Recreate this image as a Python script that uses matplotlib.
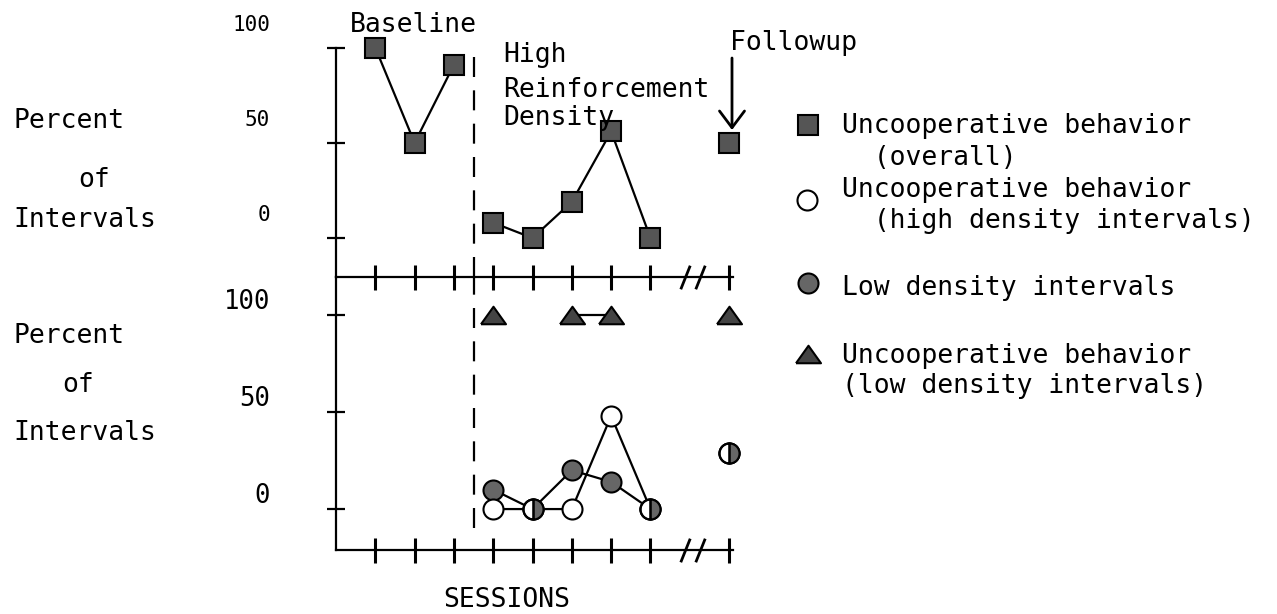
import numpy as np
import matplotlib.pyplot as plt
from matplotlib.transforms import ScaledTranslation

plt.rcParams['font.family'] = ['DejaVu Sans Mono', 'DejaVu Sans']

# Sesiones
baseline_sessions = [1, 2, 3]
treatment_sessions = [4, 5, 6, 7, 8]
followup_session = [10]

# Panel superior: conducta no cooperativa (total)
overall_baseline = [100, 50, 91]
overall_treatment = [8, 0, 19, 56, 0]
overall_followup = [50]

# Panel inferior
high_density_uncoop = [0, 0, 0, 48, 0]
high_density_uncoop_followup = [29]
low_density = [10, 0, 20, 14, 0]
low_density_followup = [29]
low_density_uncoop = [100, np.nan, 100, 100, np.nan]
low_density_uncoop_followup = [100]

x_ticks = [1, 2, 3, 4, 5, 6, 7, 8, 10]
y_ticks = [0, 50, 100]
y_tick_labels = ['0', '50', '100']
phase_change = 3.5
axis_break = [8.88, 9.26]

legend_lines = ["Uncooperative behavior", "  (overall)",
                "Uncooperative behavior", "  (high density intervals)",
                "Low density intervals",
                "Uncooperative behavior", "(low density intervals)"]

# Estilos
W, H = 1277, 614
FS = 19
sq_style = dict(marker='s', ms=14.4, mfc='#555555', mec='k', mew=1.5, ls='none', clip_on=False)
open_style = dict(marker='o', ms=14.4, mfc='white', mec='k', mew=1.5, ls='none', clip_on=False)
fill_style = dict(marker='o', ms=14.4, mfc='#666666', mec='k', mew=1.5, ls='none', clip_on=False)
tri_path = [(-1, -0.7), (1, -0.7), (0, 0.7), (-1, -0.7)]
tri_style = dict(marker=tri_path, ms=18, mfc='#444444', mec='k', mew=1.5, ls='none', clip_on=False)
slash = [(-0.4, -1), (0.4, 1)]

fig = plt.figure(figsize=(W / 100, H / 100), dpi=100)
ax_top = fig.add_axes([336 / W, (H - 277) / H, 397 / W, (277 - 47.7) / H])
ax_bot = fig.add_axes([336 / W, (H - 550) / H, 397 / W, (550 - 277) / H])
ax_top.set_ylim(-20.5, 100)
ax_bot.set_ylim(-21.1, 119.6)

for ax in (ax_top, ax_bot):
    ax.set_xlim(0, 10.1)
    ax.patch.set_alpha(0)
    ax.spines[['top', 'right']].set_visible(False)
    ax.spines[['left', 'bottom']].set_linewidth(1.6)
    ax.set_xticks(x_ticks)
    ax.set_yticks(y_ticks)
    ax.tick_params(axis='x', direction='inout', length=18, width=2.2, labelbottom=False)
    ax.tick_params(axis='y', direction='inout', length=13, width=1.6, labelleft=False)
    # corte del eje
    ax.plot(axis_break, [0, 0], transform=ax.get_xaxis_transform(), ls='none',
            marker=slash, ms=17, mew=2, mec='k', clip_on=False, zorder=5)

# etiquetas de eje y (desplazadas como en el original)
for ax, size, dy in ((ax_top, 15, 12), (ax_bot, 18.5, 4.5)):
    tr = ax.get_yaxis_transform() + ScaledTranslation(0, dy / 72, fig.dpi_scale_trans)
    for v, lab in zip(y_ticks, y_tick_labels):
        ax.text(-0.166, v, lab, transform=tr, ha='right', va='baseline', fontsize=size)

# linea de cambio de fase
ax_top.axvline(phase_change, color='k', lw=1.6, ls=(0, (9, 6)))
ax_bot.axvline(phase_change, ymin=22 / 273, color='k', lw=1.6, ls=(0, (9, 6)))

# Panel superior
ax_top.plot(baseline_sessions, overall_baseline, color='k', lw=1.6, zorder=2)
ax_top.plot(treatment_sessions, overall_treatment, color='k', lw=1.6, zorder=2)
ax_top.plot(baseline_sessions, overall_baseline, zorder=3, **sq_style)
ax_top.plot(treatment_sessions, overall_treatment, zorder=3, **sq_style)
ax_top.plot(followup_session, overall_followup, zorder=3, **sq_style)

# Panel inferior
ax_bot.plot(treatment_sessions, low_density_uncoop, color='k', lw=1.6, zorder=2)
ax_bot.plot(treatment_sessions, high_density_uncoop, color='k', lw=1.6, zorder=2)
ax_bot.plot(treatment_sessions, low_density, color='k', lw=1.6, zorder=2)
ax_bot.plot(treatment_sessions, low_density_uncoop, zorder=3, **tri_style)
ax_bot.plot(followup_session, low_density_uncoop_followup, zorder=3, **tri_style)
ax_bot.plot(treatment_sessions, low_density, zorder=3, **fill_style)
ax_bot.plot(followup_session, low_density_followup, zorder=3, **fill_style)
ax_bot.plot(treatment_sessions, high_density_uncoop, zorder=4, **open_style)
ax_bot.plot(followup_session, high_density_uncoop_followup, zorder=4, **open_style)

# donde los dos circulos coinciden: medio circulo relleno
half = dict(fill_style, fillstyle='right', markerfacecoloralt='none')
all_x = treatment_sessions + followup_session
low_all = np.array(low_density + low_density_followup, dtype=float)
high_all = np.array(high_density_uncoop + high_density_uncoop_followup, dtype=float)
overlap = np.where(low_all == high_all, low_all, np.nan)
ax_bot.plot(all_x, overlap, zorder=5, **half)

ax_bot.set_xlabel('SESSIONS', fontsize=FS)
ax_bot.xaxis.set_label_coords((507 - 336) / 397, (550 - 607) / 273)
ax_bot.xaxis.label.set_va('baseline')

# Capa de textos en pixeles
ov = fig.add_axes([0, 0, 1, 1])
ov.set_xlim(0, W)
ov.set_ylim(H, 0)
ov.axis('off')
ov.patch.set_alpha(0)

for txt, x, y in [("Percent", 13, 128), ("of", 78, 187), ("Intervals", 13, 227),
                  ("Percent", 13, 343), ("of", 62, 392), ("Intervals", 13, 440),
                  ("Baseline", 350, 32), ("High", 503, 62), ("Reinforcement", 503, 97),
                  ("Density", 503, 125), ("Followup", 730, 50)]:
    ov.text(x, y, txt, fontsize=FS, ha='left', va='baseline')

ov.annotate('', xy=(732, 130), xytext=(732, 58),
            arrowprops=dict(arrowstyle='->,head_length=0.6,head_width=0.45', lw=2,
                            color='k', shrinkA=0, shrinkB=0, mutation_scale=20))

# Leyenda
for txt, y in zip(legend_lines, [133, 165, 197, 228, 295, 363, 393]):
    ov.text(842, y, txt, fontsize=FS, ha='left', va='baseline')
ov.plot([808], [125], **sq_style)
ov.plot([807], [200], **open_style)
ov.plot([808], [283], **fill_style)
ov.plot([808], [354], **tri_style)

fig.savefig('out.png', dpi=100)
